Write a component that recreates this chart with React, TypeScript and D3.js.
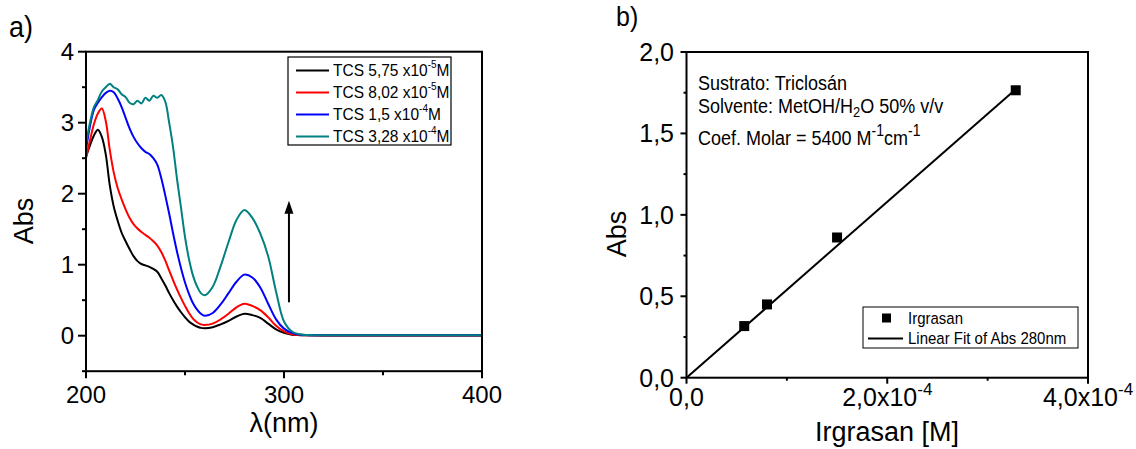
import React from 'react';
import * as d3 from 'd3';

// ---------- Panel a) data ----------
const wavelengths = [
  200, 202, 204, 206, 208, 210, 212, 214, 216, 218, 220, 222, 224, 226, 228, 230,
  232, 234, 236, 238, 240, 242, 244, 246, 248, 250, 252, 254, 256, 258, 260,
  264, 268, 272, 276, 280, 284, 288, 292, 296, 300, 304, 308, 312, 320, 340, 360, 380, 400,
];
const absTcs1 = [
  2.52, 2.68, 2.82, 2.9, 2.8, 2.55, 2.12, 1.82, 1.62, 1.45, 1.33, 1.22, 1.12, 1.05, 1.01, 0.99,
  0.97, 0.94, 0.9, 0.81, 0.71, 0.6, 0.5, 0.41, 0.33, 0.26, 0.2, 0.16, 0.13, 0.11, 0.105,
  0.12, 0.16, 0.21, 0.27, 0.31, 0.29, 0.25, 0.17, 0.09, 0.04, 0.015, 0.008, 0.005, 0.003, 0.003, 0.003, 0.003, 0.003,
];
const absTcs2 = [
  2.5, 2.75, 2.98, 3.13, 3.2, 3.02, 2.62, 2.3, 2.08, 1.92, 1.78, 1.66, 1.57, 1.51, 1.46, 1.42,
  1.38, 1.33, 1.27, 1.18, 1.06, 0.92, 0.78, 0.65, 0.53, 0.42, 0.32, 0.24, 0.19, 0.16, 0.15,
  0.17, 0.23, 0.31, 0.4, 0.45, 0.42, 0.36, 0.26, 0.14, 0.06, 0.02, 0.01, 0.006, 0.004, 0.004, 0.004, 0.004, 0.004,
];
const absTcs3 = [
  2.62, 2.95, 3.18, 3.28, 3.36, 3.42, 3.45, 3.43, 3.34, 3.22, 3.07, 2.92, 2.8, 2.71, 2.64, 2.59,
  2.56, 2.5, 2.41, 2.22, 1.98, 1.72, 1.44, 1.18, 0.95, 0.75, 0.59, 0.46, 0.37, 0.31, 0.28,
  0.32, 0.44, 0.6, 0.76, 0.86, 0.82, 0.68, 0.45, 0.23, 0.1, 0.04, 0.015, 0.008, 0.005, 0.005, 0.005, 0.005, 0.005,
];
const absTcs4 = [
  2.7, 3.0, 3.22, 3.32, 3.44, 3.5, 3.55, 3.5, 3.47, 3.4, 3.36, 3.28, 3.26, 3.31, 3.27, 3.35,
  3.31, 3.38, 3.35, 3.39, 3.3, 3.0, 2.65, 2.2, 1.8, 1.39, 1.08, 0.85, 0.7, 0.6, 0.57,
  0.69, 0.98, 1.32, 1.63, 1.77, 1.66, 1.44, 1.12, 0.62, 0.2, 0.06, 0.02, 0.01, 0.006, 0.006, 0.006, 0.006, 0.006,
];
const seriesColors = ['#000000', '#ff0000', '#0000ff', '#008080'];
const legendMantissas = ['5,75', '8,02', '1,5', '3,28'];
const legendExponents = ['-5', '-5', '-4', '-4'];
const arrowLambda = 302.5;
const arrowFrom = 0.47;
const arrowTo = 1.9;

const aXMajor = [200, 300, 400];
const aXMinor = [250, 350];
const aYMajor = [0, 1, 2, 3, 4];
const aYMinor = [-0.5, 0.5, 1.5, 2.5, 3.5];

// ---------- Panel b) data ----------
const concentrations = [5.75e-5, 8.02e-5, 1.5e-4, 3.28e-4];
const abs280 = [0.317, 0.45, 0.861, 1.765];
const fitSlope = 5400;
const fitIntercept = 0.0;
const fitRange = [0, 3.28e-4];

const bXMajor = [0, 2e-4, 4e-4];
const bXMajorLabels = ['0,0', '2,0x10', '4,0x10'];
const bXMajorExp = ['', '-4', '-4'];
const bXMinor = [1e-4, 3e-4];
const bYMajor = [0, 0.5, 1.0, 1.5, 2.0];
const bYMajorLabels = ['0,0', '0,5', '1,0', '1,5', '2,0'];
const bYMinor = [0.25, 0.75, 1.25, 1.75];

const FONT = "'Liberation Sans', Arial, Helvetica, sans-serif";
const STRETCH = 1.12;

function Tall({ x, y, children, ...rest }: any) {
  return (
    <g transform={`translate(${x},${y}) scale(1,${STRETCH})`}>
      <text x={0} y={0} {...rest}>{children}</text>
    </g>
  );
}

export default function App() {
  const ax = d3.scaleLinear().domain([200, 400]).range([86, 482]);
  const ay = d3.scaleLinear().domain([-0.5, 4]).range([371.2, 51.7]);
  const bx = d3.scaleLinear().domain([0, 4e-4]).range([686.5, 1088]);
  const by = d3.scaleLinear().domain([0, 2]).range([377.7, 52]);

  const series = [absTcs1, absTcs2, absTcs3, absTcs4];
  const line = d3
    .line<number>()
    .x((_, i) => ax(wavelengths[i]))
    .y((d) => ay(d))
    .curve(d3.curveCatmullRom.alpha(0.5));

  const fitLine = d3
    .line<number>()
    .x((d) => bx(d))
    .y((d) => by(fitSlope * d + fitIntercept));

  const aLeft = ax(200), aRight = ax(400), aTop = ay(4), aBottom = ay(-0.5);
  const bLeft = bx(0), bRight = bx(4e-4), bTop = by(2), bBottom = by(0);

  const ax0 = ax(arrowLambda);
  const arrowTipY = ay(arrowTo);

  return (
    <svg
      width={1136}
      height={449}
      style={{ position: 'absolute', left: 0, top: 0, background: '#fff' }}
      fontFamily={FONT}
    >
      <rect x={0} y={0} width={1136} height={449} fill="#fff" />
      <defs>
        <clipPath id="clipA">
          <rect x={aLeft} y={aTop} width={aRight - aLeft} height={aBottom - aTop} />
        </clipPath>
      </defs>

      {/* ================= Panel a ================= */}
      <Tall x={9} y={37} fontSize={27}>a)</Tall>

      <g clipPath="url(#clipA)">
        {series.map((s, i) => (
          <path key={i} d={line(s) || ''} fill="none" stroke={seriesColors[i]} strokeWidth={2} strokeLinejoin="round" />
        ))}
      </g>

      <rect x={aLeft} y={aTop} width={aRight - aLeft} height={aBottom - aTop} fill="none" stroke="#000" strokeWidth={2} />

      {aYMajor.map((v) => (
        <g key={'aym' + v}>
          <line x1={aLeft - 8} x2={aLeft} y1={ay(v)} y2={ay(v)} stroke="#000" strokeWidth={2} />
          <text x={aLeft - 12} y={ay(v)} fontSize={24} textAnchor="end" dominantBaseline="central">{v}</text>
        </g>
      ))}
      {aYMinor.map((v) => (
        <line key={'ayn' + v} x1={aLeft - 4} x2={aLeft} y1={ay(v)} y2={ay(v)} stroke="#000" strokeWidth={2} />
      ))}
      {aXMajor.map((v) => (
        <g key={'axm' + v}>
          <line x1={ax(v)} x2={ax(v)} y1={aBottom} y2={aBottom + 7} stroke="#000" strokeWidth={2} />
          <text x={ax(v)} y={403} fontSize={24} textAnchor="middle">{v}</text>
        </g>
      ))}
      {aXMinor.map((v) => (
        <line key={'axn' + v} x1={ax(v)} x2={ax(v)} y1={aBottom} y2={aBottom + 4} stroke="#000" strokeWidth={2} />
      ))}

      <text x={ax(300)} y={432} fontSize={27} textAnchor="middle">λ(nm)</text>
      <text transform={`translate(33, 221) rotate(-90)`} fontSize={27} textAnchor="middle">Abs</text>

      <line x1={ax0} x2={ax0} y1={ay(arrowFrom)} y2={arrowTipY + 10} stroke="#000" strokeWidth={2} />
      <path d={`M${ax0},${arrowTipY} L${ax0 - 4.5},${arrowTipY + 13} L${ax0 + 4.5},${arrowTipY + 13} Z`} fill="#000" />

      <rect x={288} y={57} width={163} height={88} fill="#fff" stroke="#000" strokeWidth={1.2} />
      {legendMantissas.map((m, i) => {
        const cy = 70.5 + i * 22;
        return (
          <g key={'la' + i}>
            <line x1={296} x2={329} y1={cy} y2={cy} stroke={seriesColors[i]} strokeWidth={2} />
            <Tall x={333} y={cy + 5.5} fontSize={15.5}>
              {`TCS ${m} x10`}
              <tspan fontSize={10} dy={-7}>{legendExponents[i]}</tspan>
              <tspan dy={7}>M</tspan>
            </Tall>
          </g>
        );
      })}

      {/* ================= Panel b ================= */}
      <Tall x={616} y={26} fontSize={25}>b)</Tall>

      <path d={fitLine(fitRange) || ''} fill="none" stroke="#000" strokeWidth={2} />
      {concentrations.map((c, i) => (
        <rect key={'pt' + i} x={bx(c) - 5} y={by(abs280[i]) - 5} width={10} height={10} fill="#000" />
      ))}

      <rect x={bLeft} y={bTop} width={bRight - bLeft} height={bBottom - bTop} fill="none" stroke="#000" strokeWidth={2} />

      {bYMajor.map((v, i) => (
        <g key={'bym' + v}>
          <line x1={bLeft - 6} x2={bLeft} y1={by(v)} y2={by(v)} stroke="#000" strokeWidth={2} />
          <text x={674} y={by(v)} fontSize={25} textAnchor="end" dominantBaseline="central">{bYMajorLabels[i]}</text>
        </g>
      ))}
      {bYMinor.map((v) => (
        <line key={'byn' + v} x1={bLeft - 3} x2={bLeft} y1={by(v)} y2={by(v)} stroke="#000" strokeWidth={2} />
      ))}
      {bXMajor.map((v, i) => (
        <g key={'bxm' + v}>
          <line x1={bx(v)} x2={bx(v)} y1={bBottom} y2={bBottom + 6} stroke="#000" strokeWidth={2} />
          <text x={bx(v)} y={406} fontSize={25} textAnchor="middle">
            {bXMajorLabels[i]}
            {bXMajorExp[i] ? (
              <tspan fontSize={17} dy={-11}>{bXMajorExp[i]}</tspan>
            ) : null}
          </text>
        </g>
      ))}
      {bXMinor.map((v) => (
        <line key={'bxn' + v} x1={bx(v)} x2={bx(v)} y1={bBottom} y2={bBottom + 3} stroke="#000" strokeWidth={2} />
      ))}

      <text x={887} y={441} fontSize={27} textAnchor="middle">Irgrasan [M]</text>
      <text transform={`translate(626, 234) rotate(-90)`} fontSize={27} textAnchor="middle">Abs</text>

      <Tall x={698} y={89.5} fontSize={18}>Sustrato: Triclosán</Tall>
      <Tall x={698} y={113} fontSize={18}>
        Solvente: MetOH/H
        <tspan fontSize={13} dy={4}>2</tspan>
        <tspan dy={-4}>O 50% v/v</tspan>
      </Tall>
      <Tall x={698} y={145} fontSize={18}>
        Coef. Molar = 5400 M
        <tspan fontSize={14} dy={-8}>-1</tspan>
        <tspan dy={8}>cm</tspan>
        <tspan fontSize={14} dy={-8}>-1</tspan>
      </Tall>

      <rect x={863} y={307} width={215} height={41} fill="#fff" stroke="#000" strokeWidth={1} />
      <rect x={882} y={313.5} width={9} height={9} fill="#000" />
      <Tall x={908} y={323.5} fontSize={15}>Irgrasan</Tall>
      <line x1={868} x2={903} y1={338.5} y2={338.5} stroke="#000" strokeWidth={2} />
      <Tall x={908} y={343.5} fontSize={15}>Linear Fit of Abs 280nm</Tall>
    </svg>
  );
}
